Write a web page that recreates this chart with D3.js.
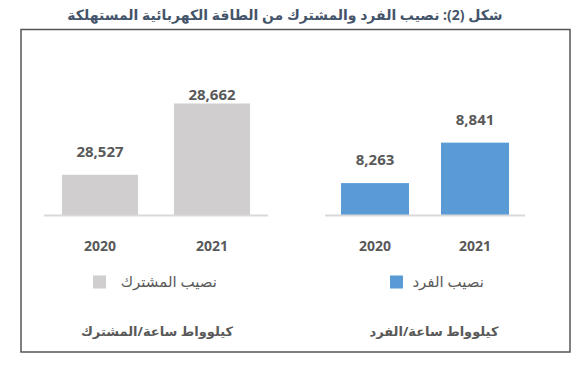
<!DOCTYPE html>
<html>
<head>
<meta charset="utf-8">
<script src="https://cdn.jsdelivr.net/npm/d3@7"></script>
<style>
    body { margin: 0; background: #fff; }
    svg { display: block; font-family: "Open Sans", "DejaVu Sans", sans-serif; }
</style>
</head>
<body>
<svg id="chart" width="583" height="365"></svg>
<script>
var title = "شكل (2):  نصيب الفرد والمشترك من الطاقة الكهربائية المستهلكة";
var years = ["2020", "2021"];
var subscriberValues = [28527, 28662];
var personValues = [8263, 8841];
var legendNames = ["نصيب المشترك", "نصيب الفرد"];
var unitLabels = ["كيلوواط ساعة/المشترك", "كيلوواط ساعة/الفرد"];

var textColor = "#595959";
var svg = d3.select("#chart");

svg.append("text")
    .attr("x", 285).attr("y", 20)
    .attr("text-anchor", "middle")
    .attr("direction", "rtl")
    .attr("font-size", 14).attr("font-weight", "bold")
    .attr("fill", "#44546A")
    .text(title);

svg.append("rect")
    .attr("x", 21).attr("y", 29.5)
    .attr("width", 549).attr("height", 322.5)
    .attr("fill", "none")
    .attr("stroke", "#555")
    .attr("stroke-width", 1.5);

var panels = [
    {values: subscriberValues, color: "#D0CECE", xRange: [44, 268], domain: [28450, 28715],
     legend: legendNames[0], unit: unitLabels[0], legendX: 106, legendTextX: 217, unitX: 157},
    {values: personValues, color: "#5B9BD5", xRange: [325, 525], domain: [7800, 9800],
     legend: legendNames[1], unit: unitLabels[1], legendX: 403, legendTextX: 484, unitX: 434}
];

var baseY = 215.5;

panels.forEach(function(p){
    var x = d3.scaleBand()
        .domain(years)
        .range(p.xRange)
        .paddingInner(0.32)
        .paddingOuter(0.16);
    var y = d3.scaleLinear()
        .domain(p.domain)
        .range([baseY, 75.5]);

    var g = svg.append("g");

    g.selectAll("rect.bar")
        .data(p.values)
        .join("rect")
        .attr("class", "bar")
        .attr("x", function(d, i){ return x(years[i]); })
        .attr("y", function(d){ return y(d); })
        .attr("width", x.bandwidth())
        .attr("height", function(d){ return baseY - y(d); })
        .attr("fill", p.color);

    g.append("line")
        .attr("x1", p.xRange[0]).attr("x2", p.xRange[1])
        .attr("y1", baseY).attr("y2", baseY)
        .attr("stroke", "#D9D9D9")
        .attr("stroke-width", 2);

    // value labels, pushed down when they would leave the plot
    g.selectAll("text.val")
        .data(p.values)
        .join("text")
        .attr("class", "val")
        .attr("x", function(d, i){ return x(years[i]) + x.bandwidth() / 2; })
        .attr("y", function(d){ return Math.max(y(d) - 18, 100); })
        .attr("text-anchor", "middle")
        .attr("font-size", 15).attr("font-weight", "bold")
        .attr("fill", textColor)
        .text(d3.format(","));

    var axis = d3.axisBottom(x).tickSize(0).tickPadding(0);
    var ax = g.append("g")
        .attr("transform", "translate(0," + 241 + ")")
        .call(axis);
    ax.select(".domain").remove();
    ax.selectAll("text")
        .attr("font-size", 14).attr("font-weight", "bold")
        .attr("font-family", "'Open Sans', sans-serif")
        .attr("fill", textColor);

    // legend
    g.append("rect")
        .attr("x", p.legendX - 13).attr("y", 275.5)
        .attr("width", 13).attr("height", 13)
        .attr("fill", p.color);
    g.append("text")
        .attr("x", p.legendTextX).attr("y", 287)
        .attr("text-anchor", "start")
        .attr("direction", "rtl")
        .attr("font-size", 15)
        .attr("fill", textColor)
        .text(p.legend);

    g.append("text")
        .attr("x", p.unitX).attr("y", 336)
        .attr("text-anchor", "middle")
        .attr("direction", "rtl")
        .attr("font-size", 13).attr("font-weight", "bold")
        .attr("fill", textColor)
        .text(p.unit);
});
</script>
</body>
</html>
